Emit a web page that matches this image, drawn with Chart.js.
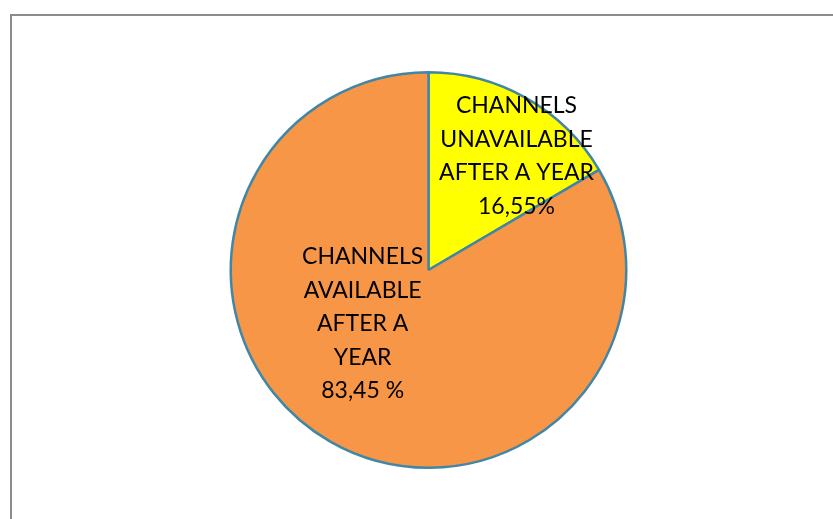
<!DOCTYPE html>
<html>
<head>
<meta charset="utf-8">
<script src="https://cdn.jsdelivr.net/npm/chart.js@4/dist/chart.umd.min.js"></script>
<style>
  html, body { margin: 0; padding: 0; background: #ffffff; }
  #wrap { position: relative; width: 833px; height: 519px; }
</style>
</head>
<body>
<div id="wrap"><canvas id="pie" width="833" height="519"></canvas></div>
<script>
// Dades del gràfic
const categories = ['CHANNELS UNAVAILABLE AFTER A YEAR', 'CHANNELS AVAILABLE AFTER A YEAR'];
const percentages = [16.55, 83.45];
const valueLabels = ['16,55%', '83,45 %'];
const labelLines = [
    ['CHANNELS', 'UNAVAILABLE', 'AFTER A YEAR'],
    ['CHANNELS', 'AVAILABLE', 'AFTER A', 'YEAR']
];
const sliceColors = ['#ffff00', '#f79646'];

// Posició de cada etiqueta respecte al centre, en fraccions del radi
const labelOffsets = [
    { x: 0.445, y: -0.575 },
    { x: -0.333, y: 0.272 }
];

// Marc gris de l'àrea del gràfic
const framePlugin = {
    id: 'frame',
    beforeDraw(chart) {
        const ctx = chart.ctx;
        ctx.save();
        ctx.strokeStyle = '#8c8c8c';
        ctx.lineWidth = 2;
        ctx.beginPath();
        ctx.moveTo(11, chart.height + 5);
        ctx.lineTo(11, 15);
        ctx.lineTo(chart.width + 5, 15);
        ctx.stroke();
        ctx.restore();
    }
};

// Etiquetes de dades dins de cada sector
const sliceLabels = {
    id: 'sliceLabels',
    afterDatasetsDraw(chart) {
        const ctx = chart.ctx;
        const meta = chart.getDatasetMeta(0);
        ctx.save();
        ctx.font = '23px Lato';
        ctx.fillStyle = '#000000';
        ctx.textAlign = 'center';
        ctx.textBaseline = 'middle';
        const lineH = 33.5;
        meta.data.forEach((arc, i) => {
            const r = arc.outerRadius;
            const cx = arc.x + labelOffsets[i].x * r;
            const cy = arc.y + labelOffsets[i].y * r;
            const lines = labelLines[i].concat([valueLabels[i]]);
            const top = cy - (lines.length - 1) * lineH / 2;
            lines.forEach((t, k) => ctx.fillText(t, cx, top + k * lineH));
        });
        ctx.restore();
    }
};

new Chart(document.getElementById('pie'), {
    type: 'pie',
    data: {
        labels: categories,
        datasets: [{
            data: percentages,
            backgroundColor: sliceColors,
            borderColor: '#4286a6',
            borderWidth: 2.5
        }]
    },
    options: {
        responsive: false,
        animation: false,
        events: [],
        layout: { padding: { top: 71, bottom: 50, left: 24, right: 0 } },
        plugins: {
            legend: { display: false },
            tooltip: { enabled: false }
        }
    },
    plugins: [framePlugin, sliceLabels]
});
</script>
</body>
</html>
